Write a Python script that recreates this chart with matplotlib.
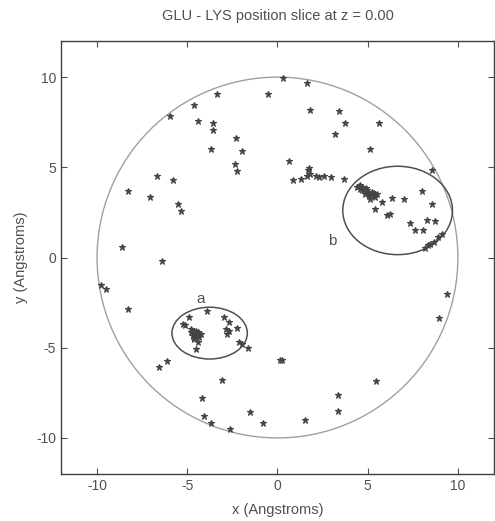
import numpy as np
import matplotlib
matplotlib.use("Agg")
import matplotlib.pyplot as plt
from matplotlib.patches import Circle, Ellipse

plt.rcParams['font.family'] = ['Liberation Sans', 'DejaVu Sans']
plt.rcParams['axes.unicode_minus'] = False

# Sampled GLU-LYS separation vectors (x, y in Angstroms) in the z = 0 slice
x_pos = [
    -3.33, -0.51, -4.65, -5.96, -4.38, -3.60, -3.60, -2.28, -3.69, -1.94,
    -2.37, -2.22, -6.70, -5.79, -8.30, -7.04, -5.51, -5.37, -8.63, -6.40,
    0.30, 1.65, 1.83, 3.40, 3.77, 5.61, 3.18, 5.15, 0.64, 1.74,
    0.86, 1.32, 1.61, 1.83, 2.11, 2.29, 2.57, 2.94, 3.67, 1.70,
    4.41, 4.60, 4.78, 4.96, 5.06, 5.24, 5.33, 5.43, 4.87, 5.15, 4.69, 5.51,
    4.50, 4.70, 4.90, 5.00, 5.20, 5.35, 4.60, 5.10,
    5.79, 5.43, 6.34, 6.99, 8.00, 8.55, 6.07, 6.25, 7.36, 8.28, 8.74,
    7.64, 8.09, 9.10, 8.92, 8.65, 8.37, 8.19, 8.55, 8.45,
    9.42, 8.98, 0.23, 0.15, 5.46, 3.36, 3.36, 1.50,
    -9.77, -9.53, -8.30, -6.12, -6.59, -3.05, -4.19, -4.06, -3.69, -2.64,
    -1.52, -0.80,
    -3.88, -4.89, -5.26, -4.80, -4.61, -4.52, -4.71, -4.43, -4.34, -4.61,
    -4.80, -4.24, -4.43, -4.52, -2.96, -2.68, -2.86, -2.68, -2.77, -2.22,
    -2.13, -1.98, -1.61, -4.70, -4.55, -4.40, -4.65, -4.50, -5.10,
]
y_pos = [
    9.09, 9.04, 8.46, 7.87, 7.56, 7.43, 7.06, 6.63, 6.00, 5.93,
    5.17, 4.80, 4.52, 4.31, 3.69, 3.33, 2.98, 2.56, 0.59, -0.20,
    9.96, 9.69, 8.17, 8.13, 7.48, 7.43, 6.87, 6.00, 5.33, 4.96,
    4.32, 4.37, 4.50, 4.65, 4.50, 4.46, 4.50, 4.46, 4.37, 4.85,
    3.91, 4.00, 3.81, 3.72, 3.54, 3.63, 3.44, 3.35, 3.54, 3.26, 3.72, 3.54,
    3.95, 3.90, 3.85, 3.65, 3.50, 3.55, 3.80, 3.40,
    3.07, 2.70, 3.30, 3.26, 3.68, 2.98, 2.37, 2.43, 1.93, 2.09, 2.00,
    1.50, 1.50, 1.31, 1.13, 0.85, 0.67, 0.54, 4.83, 0.75,
    -2.02, -3.35, -5.67, -5.67, -6.87, -7.61, -8.52, -8.98,
    -1.52, -1.74, -2.87, -5.72, -6.09, -6.80, -7.76, -8.78, -9.20, -9.52,
    -8.56, -9.15,
    -2.94, -3.28, -3.68, -3.96, -4.06, -4.24, -4.33, -4.15, -4.43, -4.52,
    -4.15, -4.24, -4.70, -5.07, -3.28, -3.59, -3.96, -4.06, -4.24, -3.93,
    -4.70, -4.80, -5.04, -4.05, -4.20, -4.35, -4.45, -4.10, -3.75,
]

# Sampling boundary and the two highlighted clusters
boundary_radius = 10.0
cluster_labels = ['a', 'b']
cluster_center_x = [-3.76, 6.66]
cluster_center_y = [-4.19, 2.61]
cluster_width = [4.18, 6.08]
cluster_height = [2.87, 4.90]
label_x = [-4.24, 3.03]
label_y = [-2.30, 0.94]

fig = plt.figure(figsize=(4.95, 5.21), dpi=100)
ax = fig.add_axes([0.1232, 0.0902, 0.8747, 0.831])

ax.add_patch(Circle((0, 0), boundary_radius, fill=False,
                    edgecolor='#a0a0a0', linewidth=1.0))
for cx, cy, w, h in zip(cluster_center_x, cluster_center_y,
                        cluster_width, cluster_height):
    ax.add_patch(Ellipse((cx, cy), w, h, fill=False,
                         edgecolor='#505050', linewidth=1.1))
for lab, lx, ly in zip(cluster_labels, label_x, label_y):
    ax.text(lx, ly, lab, ha='center', va='center', fontsize=11,
            color='#505050')

ax.plot(x_pos, y_pos, linestyle='none', marker='*', markersize=4.5,
        color='#454545', markeredgewidth=0.8)

ax.set_xlim(-12, 12)
ax.set_ylim(-12, 12)
ax.set_xticks([-10, -5, 0, 5, 10])
ax.set_yticks([-10, -5, 0, 5, 10])
ax.tick_params(direction='in', top=True, right=True, length=4,
               labelsize=10, colors='#505050')
for s in ax.spines.values():
    s.set_color('#404040')
    s.set_linewidth(1.0)

ax.set_title('GLU - LYS position slice at z = 0.00', fontsize=10.5,
             color='#505050', pad=15)
ax.set_xlabel('x (Angstroms)', fontsize=10.5, color='#505050', labelpad=7)
ax.set_ylabel('y (Angstroms)', fontsize=10.5, color='#505050', labelpad=6)

fig.savefig('out.png', dpi=100)
